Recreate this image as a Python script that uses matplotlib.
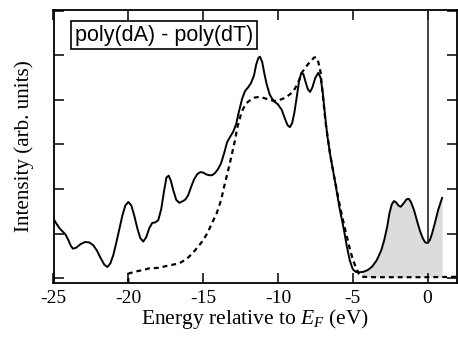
import matplotlib
matplotlib.use("Agg")
import matplotlib.pyplot as plt
import numpy as np

plt.rcParams['axes.unicode_minus'] = False
plt.rcParams['mathtext.fontset'] = 'custom'
plt.rcParams['mathtext.it'] = 'Liberation Serif:italic'
plt.rcParams['mathtext.rm'] = 'Liberation Serif'

# Solid curve: poly(dA)-poly(dT)
solid_E = [-25.0, -24.8, -24.6, -24.4, -24.2, -24.0, -23.85, -23.7, -23.5, -23.2,
           -22.9, -22.6, -22.35, -22.1, -21.85, -21.6, -21.4, -21.2, -21.0, -20.8,
           -20.6, -20.4, -20.2, -20.0, -19.8, -19.6, -19.4, -19.2, -19.0, -18.8,
           -18.6, -18.4, -18.2, -18.0, -17.8, -17.6, -17.45, -17.3, -17.15, -17.0,
           -16.8, -16.6, -16.4, -16.2, -16.0, -15.8, -15.6, -15.4, -15.2, -15.0,
           -14.8, -14.6, -14.4, -14.2, -14.0, -13.8, -13.6, -13.4, -13.2, -13.0,
           -12.8, -12.6, -12.4, -12.2, -12.0, -11.8, -11.6, -11.45, -11.3, -11.2,
           -11.05, -10.9, -10.75, -10.55, -10.3, -10.0, -9.75, -9.5, -9.35, -9.2,
           -9.05, -8.9, -8.75, -8.6, -8.45, -8.3, -8.15, -8.0, -7.85, -7.7,
           -7.5, -7.3, -7.15, -7.0, -6.85, -6.7, -6.5, -6.2, -5.9, -5.6,
           -5.4, -5.2, -5.0, -4.8, -4.6, -4.3, -4.0, -3.7, -3.4, -3.1,
           -2.9, -2.7, -2.55, -2.4, -2.25, -2.1, -1.95, -1.8, -1.6, -1.4,
           -1.25, -1.1, -0.9, -0.7, -0.5, -0.3, -0.15, 0.0, 0.15, 0.3,
           0.5, 0.7, 0.85, 0.97]
solid_I = [1.33, 1.22, 1.12, 1.05, 0.98, 0.85, 0.73, 0.66, 0.68, 0.76,
           0.81, 0.80, 0.74, 0.62, 0.45, 0.30, 0.25, 0.33, 0.52, 0.80,
           1.10, 1.40, 1.63, 1.71, 1.63, 1.40, 1.12, 0.90, 0.82, 0.92,
           1.12, 1.24, 1.25, 1.30, 1.55, 1.98, 2.26, 2.30, 2.18, 1.98,
           1.76, 1.69, 1.72, 1.76, 1.86, 2.05, 2.22, 2.33, 2.38, 2.37,
           2.33, 2.31, 2.31, 2.36, 2.45, 2.58, 2.80, 3.05, 3.17, 3.28,
           3.45, 3.75, 4.02, 4.20, 4.28, 4.38, 4.55, 4.80, 4.95, 4.97,
           4.85, 4.58, 4.35, 4.12, 3.98, 3.90, 3.78, 3.55, 3.43, 3.39,
           3.48, 3.72, 4.05, 4.40, 4.60, 4.58, 4.40, 4.24, 4.18, 4.28,
           4.50, 4.61, 4.50, 4.15, 3.65, 3.20, 2.75, 2.20, 1.60, 1.10,
           0.72, 0.40, 0.20, 0.14, 0.13, 0.14, 0.18, 0.26, 0.40, 0.62,
           0.85, 1.15, 1.45, 1.65, 1.73, 1.70, 1.63, 1.60, 1.68, 1.77,
           1.78, 1.70, 1.52, 1.28, 1.05, 0.88, 0.80, 0.79, 0.85, 1.00,
           1.25, 1.52, 1.68, 1.80]

# Dashed curve
dash_E = [-20.0, -20.0, -19.5, -19.0, -18.6, -18.0, -17.2, -16.6, -16.1, -15.7,
          -15.3, -15.0, -14.7, -14.4, -14.1, -13.8, -13.6, -13.37, -13.1, -12.9,
          -12.7, -12.43, -12.2, -12.0, -11.6, -11.23, -10.9, -10.57, -10.2, -9.9,
          -9.5, -9.0, -8.7, -8.37, -8.0, -7.77, -7.6, -7.45, -7.3, -7.15,
          -7.0, -6.8, -6.5, -6.2, -5.85, -5.55, -5.23, -5.0, -4.8, -4.6,
          -4.37, -3.5, -2.0, 0.0, 2.0]
dash_I = [-0.11, 0.10, 0.15, 0.18, 0.22, 0.23, 0.29, 0.33, 0.43, 0.56,
          0.72, 0.85, 1.02, 1.24, 1.45, 1.75, 2.05, 2.36, 2.75, 3.05,
          3.40, 3.73, 3.88, 3.96, 4.05, 4.07, 4.04, 4.00, 3.98, 4.00,
          4.05, 4.18, 4.35, 4.63, 4.80, 4.88, 4.95, 4.96, 4.85, 4.62,
          4.10, 3.45, 2.75, 2.20, 1.60, 1.15, 0.70, 0.42, 0.25, 0.10,
          0.03, 0.02, 0.02, 0.02, 0.03]

fill_start = -4.4
fill_base = 0.02
xticks = [-25, -20, -15, -10, -5, 0]
xtick_labels = ['-25', '-20', '-15', '-10', '-5', '0']
yticks = [0, 1, 2, 3, 4, 5, 6]
legend_text = 'poly(dA) - poly(dT)'

W, H = 458, 338
fig = plt.figure(figsize=(W / 100, H / 100), dpi=100)
ax = fig.add_axes([53.5 / W, 1 - 283 / H, (457.5 - 53.5) / W, (283 - 10) / H])

sE = np.array(solid_E)
sI = np.array(solid_I)
mask = sE >= fill_start
fE = np.concatenate([[fill_start], sE[mask]])
fI = np.concatenate([[np.interp(fill_start, sE, sI)], sI[mask]])
ax.fill_between(fE, fill_base, fI, color='#dcdcdc', lw=0, zorder=1)

ax.plot(sE, sI, color='black', lw=1.4, zorder=3, solid_joinstyle='round')
ax.plot(dash_E, dash_I, color='black', lw=1.6, ls=(0, (2.2, 1.8)), zorder=2)

i0 = solid_E.index(0.0)
ax.plot([0, 0], [solid_I[i0], 6.1], color='#222222', lw=1.2, zorder=3)

ax.set_xlim(-25, 2)
ax.set_ylim(-0.11, 6.02)
ax.set_xticks(xticks)
ax.set_xticklabels(xtick_labels, fontfamily='Liberation Serif', fontsize=14)
ax.set_yticks(yticks)
ax.set_yticklabels([])
ax.tick_params(direction='in', top=True, right=True, length=7, width=1.1, pad=5)
for s in ax.spines.values():
    s.set_linewidth(1.3)

ax.set_xlabel('Energy relative to $E_F$ (eV)', fontfamily='Liberation Serif',
              fontsize=15.5, labelpad=0)
ax.set_ylabel('Intensity (arb. units)', fontfamily='Liberation Serif',
              fontsize=15.2, labelpad=9)

ax.text(0.274, 0.908, legend_text, transform=ax.transAxes, ha='center', va='center',
        fontfamily='Liberation Sans', fontsize=15.5,
        bbox=dict(boxstyle='square,pad=0.18', fc='white', ec='black', lw=1.2))

fig.savefig('out.png', dpi=100)
